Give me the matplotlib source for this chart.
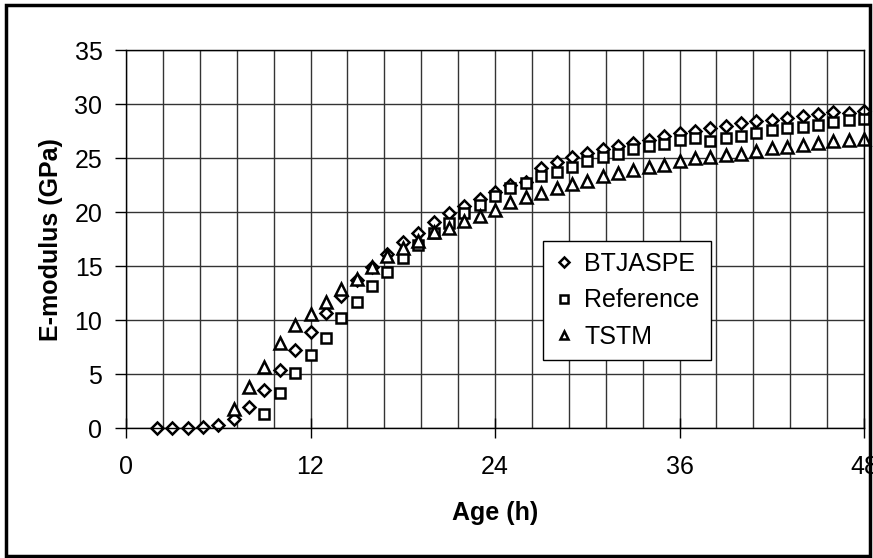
import matplotlib
matplotlib.use("Agg")
import matplotlib.pyplot as plt
from matplotlib.ticker import MultipleLocator
from matplotlib.patches import Rectangle

plt.rcParams['font.family'] = ['Liberation Sans', 'DejaVu Sans']

# E-modulus (GPa) against age (h)
hours_btjaspe = list(range(2, 49))
btjaspe = [0.05, 0.05, 0.05, 0.15, 0.3, 0.9, 2.0, 3.5, 5.4, 7.2, 8.9, 10.7, 12.2,
           13.7, 14.9, 16.1, 17.2, 18.1, 19.1, 19.9, 20.6, 21.2, 21.9, 22.5, 22.8,
           24.1, 24.6, 25.1, 25.5, 25.8, 26.1, 26.4, 26.7, 27.0, 27.3, 27.5, 27.8,
           28.0, 28.2, 28.4, 28.5, 28.7, 28.9, 29.1, 29.3, 29.2, 29.4]

hours_ref = list(range(9, 49))
reference = [1.3, 3.3, 5.1, 6.8, 8.4, 10.2, 11.7, 13.2, 14.5, 15.8, 17.0, 18.1,
             19.0, 19.9, 20.7, 21.5, 22.2, 22.7, 23.3, 23.7, 24.2, 24.7, 25.1,
             25.4, 25.8, 26.1, 26.3, 26.7, 26.9, 26.6, 26.9, 27.0, 27.3, 27.6,
             27.8, 27.9, 28.1, 28.3, 28.5, 28.6]

hours_tstm = list(range(7, 49))
tstm = [1.8, 3.8, 5.7, 7.9, 9.6, 10.6, 11.7, 12.9, 13.8, 14.9, 15.9, 16.7, 17.3,
        18.2, 18.5, 19.2, 19.6, 20.2, 20.9, 21.4, 21.8, 22.2, 22.6, 22.9, 23.3,
        23.6, 23.9, 24.2, 24.4, 24.7, 25.0, 25.1, 25.3, 25.4, 25.7, 25.9, 26.0,
        26.2, 26.4, 26.6, 26.7, 26.8]

fig = plt.figure(figsize=(8.73, 5.58), dpi=100)
ax = fig.add_axes([126/873, 1-428.3/558, 738/873, 378.3/558])

mk = dict(linestyle='none', markerfacecolor='white', markeredgecolor='black',
          markeredgewidth=1.8, clip_on=False)
ax.plot(hours_btjaspe, btjaspe, marker='D', markersize=6.5, label='BTJASPE', **mk)
ax.plot(hours_ref, reference, marker='s', markersize=7.5, label='Reference', **mk)
ax.plot(hours_tstm, tstm, marker='^', markersize=8, label='TSTM', **mk)

ax.set_xlim(0, 48)
ax.set_ylim(0, 35)
ax.xaxis.set_major_locator(MultipleLocator(12))
ax.xaxis.set_minor_locator(MultipleLocator(2.4))
ax.yaxis.set_major_locator(MultipleLocator(5))
ax.grid(True, which='both', axis='x', color='#333333', linewidth=1)
ax.grid(True, which='major', axis='y', color='#333333', linewidth=1)
ax.set_axisbelow(True)
for s in ax.spines.values():
    s.set_color('black')
    s.set_linewidth(1)

ax.tick_params(axis='x', which='major', direction='inout', length=14, width=1,
               labelsize=18, pad=12)
ax.tick_params(axis='x', which='minor', length=0)
ax.tick_params(axis='y', direction='out', length=8, width=1, labelsize=18, pad=9)

ax.set_xlabel('Age (h)', fontsize=18, fontweight='bold', labelpad=16)
ax.set_ylabel('E-modulus (GPa)', fontsize=18, fontweight='bold', labelpad=8)

leg = ax.legend(loc='upper left', bbox_to_anchor=(543/873, 1-240.7/558),
                bbox_transform=fig.transFigure, borderaxespad=0, fontsize=18,
                fancybox=False, framealpha=1, edgecolor='black',
                handlelength=0.8, handletextpad=0.4, labelspacing=0.5,
                borderpad=0.45, markerscale=0.8)
leg.get_frame().set_linewidth(1)

fig.patches.append(Rectangle((6/873, 2/558), 864/873, 551/558, transform=fig.transFigure,
                             fill=False, edgecolor='black', linewidth=2.5))

fig.savefig('out.png', dpi=100)
